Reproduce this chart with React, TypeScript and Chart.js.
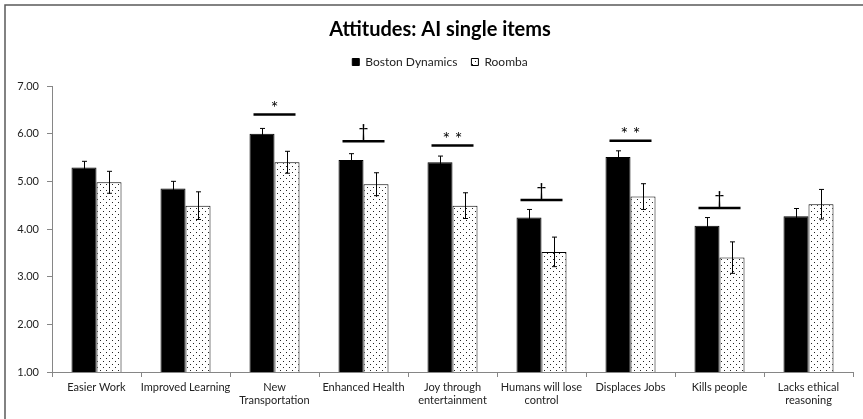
import React, { useEffect, useRef } from "react";
import { Chart, registerables, layouts } from "chart.js";

Chart.register(...registerables);

const categories: (string | string[])[] = [
  "Easier Work",
  "Improved Learning",
  ["New", "Transportation"],
  "Enhanced Health",
  ["Joy through", "entertainment"],
  ["Humans will lose", "control"],
  "Displaces Jobs",
  "Kills people",
  ["Lacks ethical", "reasoning"],
];

const bostonDynamics = [5.29, 4.85, 6.0, 5.45, 5.4, 4.24, 5.51, 4.07, 4.27];
const bostonDynamicsErr = [0.13, 0.15, 0.11, 0.13, 0.13, 0.17, 0.13, 0.17, 0.16];
const roomba = [4.98, 4.49, 5.4, 4.94, 4.49, 3.52, 4.68, 3.4, 4.52];
const roombaErr = [0.23, 0.29, 0.23, 0.24, 0.27, 0.31, 0.27, 0.33, 0.31];

const sigLabels = ["", "", "*", "\u2020", "* *", "\u2020", "* *", "\u2020", ""];
const sigLevels: (number | null)[] = [null, null, 6.4, 5.84, 5.75, 4.61, 5.85, 4.44, null];

const yTicks = [1, 2, 3, 4, 5, 6, 7];

const FONT = "Lato, 'Open Sans', sans-serif";

function makeDotPattern(): CanvasPattern | string {
  const c = document.createElement("canvas");
  c.width = 6;
  c.height = 6;
  const ctx = c.getContext("2d");
  if (!ctx) return "#fff";
  ctx.fillStyle = "#ffffff";
  ctx.fillRect(0, 0, 6, 6);
  ctx.fillStyle = "#222222";
  ctx.fillRect(1, 1, 1, 1);
  ctx.fillRect(4, 4, 1, 1);
  const p = ctx.createPattern(c, "repeat");
  return p || "#fff";
}

const errorBarPlugin = {
  id: "errorBars",
  afterDatasetsDraw(chart: any) {
    const { ctx } = chart;
    const y = chart.scales.y;
    const errs = [bostonDynamicsErr, roombaErr];
    ctx.save();
    ctx.strokeStyle = "#000";
    ctx.lineWidth = 1;
    chart.data.datasets.forEach((ds: any, di: number) => {
      const meta = chart.getDatasetMeta(di);
      meta.data.forEach((bar: any, i: number) => {
        const v = ds.data[i];
        const e = errs[di][i];
        const x = Math.round(bar.x) + 0.5;
        const yTop = y.getPixelForValue(v + e);
        const yBot = y.getPixelForValue(v - e);
        ctx.beginPath();
        ctx.moveTo(x, yTop);
        ctx.lineTo(x, yBot);
        ctx.moveTo(x - 2.5, yTop);
        ctx.lineTo(x + 2.5, yTop);
        ctx.moveTo(x - 2.5, yBot);
        ctx.lineTo(x + 2.5, yBot);
        ctx.stroke();
      });
    });
    ctx.restore();
  },
};

const sigPlugin = {
  id: "significance",
  afterDatasetsDraw(chart: any) {
    const { ctx } = chart;
    const x = chart.scales.x;
    const y = chart.scales.y;
    ctx.save();
    sigLevels.forEach((lvl, i) => {
      if (lvl === null) return;
      const cx = x.getPixelForValue(i);
      const py = y.getPixelForValue(lvl);
      ctx.strokeStyle = "#000";
      ctx.lineWidth = 2.5;
      ctx.beginPath();
      ctx.moveTo(cx - 21, py);
      ctx.lineTo(cx + 21, py);
      ctx.stroke();
      ctx.fillStyle = "#000";
      ctx.font = `18px ${FONT}`;
      ctx.textAlign = "center";
      ctx.textBaseline = "alphabetic";
      const isStar = sigLabels[i].indexOf("*") >= 0;
      ctx.fillText(sigLabels[i], cx, py - (isStar ? 1 : 4));
    });
    ctx.restore();
  },
};

const framePlugin = {
  id: "frame",
  beforeDraw(chart: any) {
    const { ctx } = chart;
    ctx.save();
    ctx.fillStyle = "#fff";
    ctx.fillRect(0, 0, chart.width, chart.height);
    ctx.strokeStyle = "#595959";
    ctx.lineWidth = 1.5;
    ctx.strokeRect(5, 5, chart.width + 20, chart.height + 20);
    ctx.restore();
  },
};

// empty layout box that adds a gap between the legend and the plot area
const legendGapPlugin = {
  id: "legendGap",
  beforeInit(chart: any) {
    const box: any = {
      position: "top",
      weight: 500,
      fullSize: true,
      options: {},
      width: 0,
      height: 0,
      top: 0,
      left: 0,
      right: 0,
      bottom: 0,
      isHorizontal() {
        return true;
      },
      update(maxWidth: number) {
        this.width = maxWidth;
        this.height = 8;
      },
      draw() {},
    };
    layouts.addBox(chart, box);
  },
};

export default function App() {
  const ref = useRef<HTMLCanvasElement>(null);
  useEffect(() => {
    if (!ref.current) return;
    const pattern = makeDotPattern();
    const chart = new Chart(ref.current, {
      type: "bar",
      data: {
        labels: categories,
        datasets: [
          {
            label: "Boston Dynamics",
            data: bostonDynamics,
            backgroundColor: "#000",
            borderColor: "#000",
            borderWidth: 1,
            barPercentage: 1.0,
            categoryPercentage: 0.562,
          },
          {
            label: "Roomba",
            data: roomba,
            backgroundColor: pattern as any,
            borderColor: "#000",
            borderWidth: 1,
            barPercentage: 1.0,
            categoryPercentage: 0.562,
          },
        ],
      },
      options: {
        animation: false,
        responsive: false,
        maintainAspectRatio: false,
        layout: { padding: { left: 27, right: 10, top: 0, bottom: 0 } },
        plugins: {
          title: {
            display: true,
            text: "Attitudes: AI single items",
            color: "#000",
            font: { family: FONT, size: 20, weight: "bold" },
            padding: { top: 18, bottom: 0 },
          },
          legend: {
            display: true,
            labels: {
              color: "#222",
              font: { family: FONT, size: 12 },
              boxWidth: 7,
              boxHeight: 7,
              padding: 14,
            },
          },
          tooltip: { enabled: false },
        },
        scales: {
          x: {
            grid: {
              display: true,
              drawOnChartArea: false,
              drawTicks: true,
              tickLength: 5,
              color: "#868686",
              offset: true,
            },
            border: { display: true, color: "#868686" },
            ticks: {
              color: "#222",
              font: { family: FONT, size: 11 },
              maxRotation: 0,
              autoSkip: false,
              padding: 4,
            },
            afterFit(scale: any) {
              scale.height = 47;
            },
          },
          y: {
            min: 1,
            max: 7,
            afterBuildTicks(scale: any) {
              scale.ticks = yTicks.map((v) => ({ value: v }));
            },
            grid: {
              display: true,
              drawOnChartArea: false,
              drawTicks: true,
              tickLength: 5,
              color: "#868686",
            },
            border: { display: true, color: "#868686" },
            ticks: {
              color: "#222",
              font: { family: FONT, size: 11 },
              padding: 8,
              callback: (v: any) => Number(v).toFixed(2),
            },
            afterFit(scale: any) {
              scale.width = 25;
              scale._computeLabelArea = () => undefined;
            },
          },
        },
      },
      plugins: [framePlugin, legendGapPlugin, errorBarPlugin, sigPlugin],
    });
    return () => chart.destroy();
  }, []);
  return (
    <div style={{ position: "fixed", left: 0, top: 0, width: 863, height: 419, background: "#fff" }}>
      <canvas ref={ref} width={863} height={419} style={{ width: 863, height: 419, display: "block" }} />
    </div>
  );
}
